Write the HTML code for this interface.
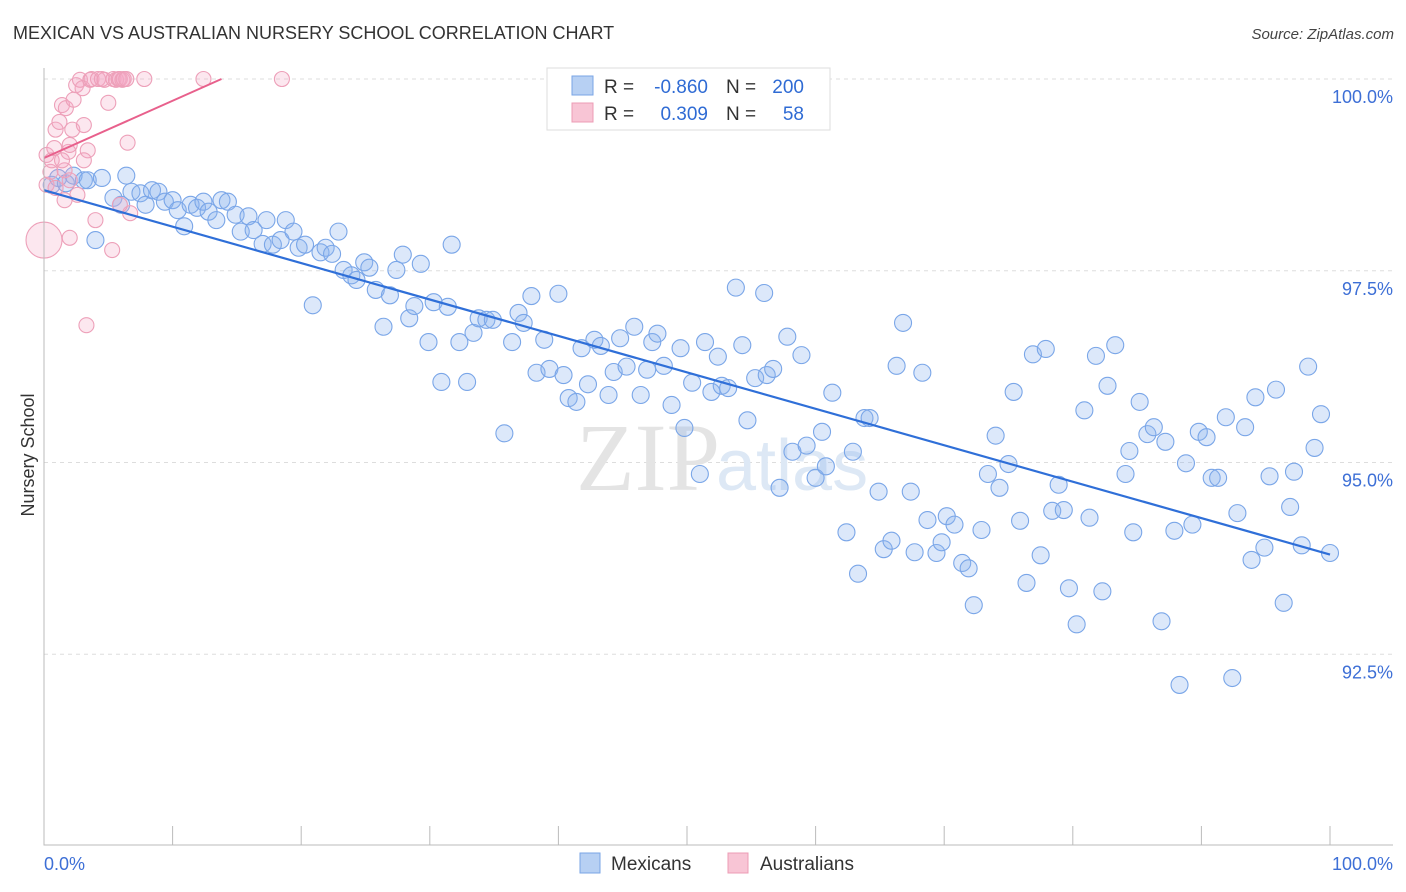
<!DOCTYPE html>
<html><head><meta charset="utf-8"><style>
body{margin:0;background:#fff;font-family:"Liberation Sans",sans-serif;}
svg{display:block}
</style></head><body>
<svg id="chart" width="1406" height="892">
<text x="13" y="39" font-size="18" fill="#333">MEXICAN VS AUSTRALIAN NURSERY SCHOOL CORRELATION CHART</text>
<text x="1394" y="39" font-size="15" fill="#444" font-style="italic" text-anchor="end">Source: ZipAtlas.com</text>
<g id="grid"></g>
<text x="720" y="490" font-size="96" fill="#e4e4e4" text-anchor="end" font-family="Liberation Serif">ZIP</text>
<text x="716" y="490" font-size="72" fill="#dde8f5">atlas</text>
<g id="marks"></g>
<g id="axes"></g>
<text transform="translate(34,455) rotate(-90)" font-size="18" fill="#333" text-anchor="middle">Nursery School</text>
<g>
<rect x="547" y="68" width="283" height="62" fill="#fff" stroke="#ddd"/>
<rect x="572" y="76" width="21" height="19" fill="#b7d0f3" stroke="#7aa5e6"/>
<rect x="572" y="103" width="21" height="19" fill="#f8c5d5" stroke="#ec9cb5"/>
<text x="604" y="93" font-size="19" fill="#333">R =</text>
<text x="708" y="93" font-size="19" fill="#2f6bd4" text-anchor="end">-0.860</text>
<text x="726" y="93" font-size="19" fill="#333">N =</text>
<text x="804" y="93" font-size="19" fill="#2f6bd4" text-anchor="end">200</text>
<text x="604" y="120" font-size="19" fill="#333">R =</text>
<text x="708" y="120" font-size="19" fill="#2f6bd4" text-anchor="end">0.309</text>
<text x="726" y="120" font-size="19" fill="#333">N =</text>
<text x="804" y="120" font-size="19" fill="#2f6bd4" text-anchor="end">58</text>
</g>
<g><rect x="580" y="853" width="20" height="20" fill="#b7d0f3" stroke="#7aa5e6"/><text x="611" y="870" font-size="19" fill="#333">Mexicans</text></g>
<g><rect x="728" y="853" width="20" height="20" fill="#f8c5d5" stroke="#ec9cb5"/><text x="760" y="870" font-size="19" fill="#333">Australians</text></g>
</svg>
<script>
const blueX=[0.6,1.1,1.7,2.3,3.1,3.4,4.5,6.4,4.0,5.4,6.0,6.8,7.5,7.9,8.4,8.9,9.4,10.0,10.4,10.9,11.4,11.9,12.4,12.8,13.4,13.8,14.3,14.9,15.3,15.9,16.3,17.0,17.3,17.8,18.4,18.8,19.4,19.8,20.3,20.9,21.5,21.9,22.4,22.9,23.3,23.9,24.3,24.9,25.3,25.8,26.4,26.9,27.4,27.9,28.4,28.8,29.3,29.9,30.3,30.9,31.4,31.7,32.3,32.9,33.4,33.8,34.4,34.9,35.8,36.4,36.9,37.3,37.9,38.3,38.9,39.3,40.0,40.4,40.8,41.4,41.8,42.3,42.8,43.3,43.9,44.3,44.8,45.3,45.9,46.4,46.9,47.3,47.7,48.2,48.8,49.5,49.8,50.4,51.0,51.4,51.9,52.4,52.7,53.2,53.8,54.3,54.7,55.3,56.0,56.2,56.7,57.2,57.8,58.2,58.9,59.3,60.0,60.5,60.8,61.3,62.4,62.9,63.3,63.8,64.2,64.9,65.3,65.9,66.3,66.8,67.4,67.7,68.3,68.7,69.4,69.8,70.2,70.8,71.4,71.9,72.3,72.9,73.4,74.0,74.3,75.0,75.4,75.9,76.4,76.9,77.5,77.9,78.4,78.9,79.3,79.7,80.3,80.9,81.3,81.8,82.3,82.7,83.3,84.1,84.4,84.7,85.2,85.8,86.3,86.9,87.2,87.9,88.3,88.8,89.3,89.8,90.4,90.8,91.3,91.9,92.4,92.8,93.4,93.9,94.2,94.9,95.3,95.8,96.4,96.9,97.2,97.8,98.3,98.8,99.3,100.0];
const blueY=[98.62,98.71,98.64,98.74,98.68,98.68,98.71,98.74,97.90,98.45,98.36,98.53,98.51,98.36,98.55,98.53,98.40,98.42,98.29,98.08,98.36,98.32,98.40,98.27,98.16,98.42,98.40,98.23,98.01,98.21,98.03,97.85,98.16,97.84,97.90,98.16,98.01,97.80,97.84,97.05,97.74,97.80,97.72,98.01,97.51,97.44,97.38,97.61,97.54,97.25,96.77,97.18,97.51,97.71,96.88,97.04,97.59,96.57,97.09,96.05,97.03,97.84,96.57,96.05,96.69,96.88,96.86,96.86,95.38,96.57,96.95,96.82,97.17,96.17,96.60,96.22,97.20,96.14,95.84,95.79,96.49,96.02,96.60,96.52,95.88,96.18,96.62,96.25,96.77,95.88,96.21,96.57,96.68,96.26,95.75,96.49,95.45,96.04,94.85,96.57,95.92,96.38,96.00,95.97,97.28,96.53,95.55,96.10,97.21,96.14,96.22,94.67,96.64,95.14,96.40,95.22,94.80,95.40,94.95,95.91,94.09,95.14,93.55,95.58,95.58,94.62,93.87,93.98,96.26,96.82,94.62,93.83,96.17,94.25,93.82,93.96,94.30,94.19,93.69,93.62,93.14,94.12,94.85,95.35,94.67,94.98,95.92,94.24,93.43,96.41,93.79,96.48,94.37,94.71,94.38,93.36,92.89,95.68,94.28,96.39,93.32,96.00,96.53,94.85,95.15,94.09,95.79,95.37,95.46,92.93,95.27,94.11,92.10,94.99,94.19,95.40,95.33,94.80,94.80,95.59,92.19,94.34,95.46,93.73,95.85,93.89,94.82,95.95,93.17,94.42,94.88,93.92,96.25,95.19,95.63,93.82];
const pinkX=[0.2,0.2,0.5,0.6,0.8,0.9,1.2,1.4,1.7,1.9,2.0,2.0,2.2,2.3,2.5,2.8,3.0,3.1,3.3,3.4,3.6,3.7,4.0,4.2,4.5,4.7,5.0,5.3,5.4,5.6,5.8,5.9,6.1,6.2,6.4,6.5,6.7,5.9,7.8,12.4,18.5,1.6,1.4,2.6,3.1,1.6,0.9,2.0];
const pinkY=[98.62,99.01,98.79,98.94,99.10,99.34,99.44,99.66,99.62,99.05,99.14,97.93,99.34,99.73,99.92,99.99,99.88,99.40,96.79,99.07,99.99,100.0,98.16,100.0,100.0,99.99,99.69,97.77,100.0,99.99,100.0,100.0,99.99,100.0,100.0,99.17,98.25,98.36,100.0,100.0,100.0,98.81,98.94,98.49,98.94,98.42,98.58,98.68];
const bigPinkX=[0.0], bigPinkY=[97.90];
const blueTrendX=[0,100], blueTrendY=[98.55,93.80];
const pinkTrendX=[0,13.8], pinkTrendY=[98.97,100.0];
const yTicks=[100,97.5,95,92.5], yTickLabels=["100.0%","97.5%","95.0%","92.5%"];
const xTicks=[0,10,20,30,40,50,60,70,80,90,100];

const NS="http://www.w3.org/2000/svg";
const sx=v=>44+v*12.86;
const sy=v=>79+(100-v)*76.7;
function mk(tag,attrs,parent){const e=document.createElementNS(NS,tag);for(const k in attrs)e.setAttribute(k,attrs[k]);parent.appendChild(e);return e;}
const grid=document.getElementById('grid'),marks=document.getElementById('marks'),axes=document.getElementById('axes');
yTicks.forEach((t,i)=>{
 const l=mk('line',{x1:44,x2:1393,y1:sy(t),y2:sy(t),stroke:'#ddd','stroke-dasharray':'4,4'},grid);
 
 
 const tx=mk('text',{x:1393,y:sy(t)+24,'font-size':18,fill:'#3d6fd6','text-anchor':'end'},axes);
 tx.textContent=yTickLabels[i];
 
 
});
const ax=mk('path',{d:'M44 68V845H1393',fill:'none',stroke:'#bbb'},axes);


xTicks.forEach(t=>{
 const l=mk('line',{x1:sx(t),x2:sx(t),y1:826,y2:845,stroke:'#bbb'},axes);
 
 
});
const xl0=mk('text',{x:44,y:870,'font-size':18,fill:'#3d6fd6'},axes);xl0.textContent='0.0%';


const xl1=mk('text',{x:1393,y:870,'font-size':18,fill:'#3d6fd6','text-anchor':'end'},axes);xl1.textContent='100.0%';



blueX.forEach((x,i)=>{
 const c=mk('circle',{cx:sx(x),cy:sy(blueY[i]),r:8.5,fill:'rgba(140,180,240,0.3)',stroke:'#7aa6e8','stroke-width':1.1},marks);
 
 
});
pinkX.forEach((x,i)=>{
 const c=mk('circle',{cx:sx(x),cy:sy(pinkY[i]),r:7.5,fill:'rgba(244,170,196,0.28)',stroke:'#eda0b9','stroke-width':1.1},marks);
 
 
});
bigPinkX.forEach((x,i)=>{
 const c=mk('circle',{cx:sx(x),cy:sy(bigPinkY[i]),r:18,fill:'rgba(244,170,196,0.28)',stroke:'#eda0b9','stroke-width':1.1},marks);
 
 
});
const bt=mk('line',{x1:sx(blueTrendX[0]),y1:sy(blueTrendY[0]),x2:sx(blueTrendX[1]),y2:sy(blueTrendY[1]),stroke:'#2f6fd8','stroke-width':2.2},marks);


const pt=mk('line',{x1:sx(pinkTrendX[0]),y1:sy(pinkTrendY[0]),x2:sx(pinkTrendX[1]),y2:sy(pinkTrendY[1]),stroke:'#e8608c','stroke-width':2},marks);


</script>
</body></html>
